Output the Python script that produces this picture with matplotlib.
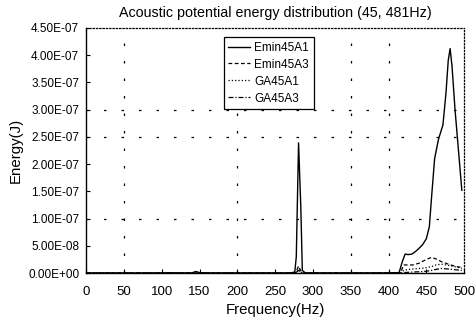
import matplotlib
matplotlib.use("Agg")
import matplotlib.pyplot as plt
import numpy as np

plt.rcParams['font.family'] = ['Liberation Sans', 'DejaVu Sans']

# frequency (Hz) and energy (x1e-7 J)
freq_a1 = [0, 100, 110, 120, 140, 145, 150, 160, 270, 276, 278, 281, 284, 286, 290, 400, 414,
           418, 422, 426, 431, 436, 440, 445, 450, 454, 457, 461, 466, 472, 476, 479, 481.5,
           484, 488, 497]
emin45a1 = [0.003, 0.003, 0.008, 0.003, 0.005, 0.03, 0.01, 0.003, 0.003, 0.02, 0.3, 2.39, 1.2,
            0.05, 0.003, 0.003, 0.01, 0.2, 0.35, 0.34, 0.35, 0.4, 0.45, 0.52, 0.63, 0.85, 1.4,
            2.1, 2.45, 2.72, 3.3, 3.9, 4.12, 3.8, 3.0, 1.52]

freq_ga = [0, 270, 277, 281, 285, 290, 410, 416, 420, 426, 432, 440, 450, 457, 463, 470, 480,
           490, 497]
emin45a3 = [0.002, 0.002, 0.01, 0.13, 0.01, 0.002, 0.002, 0.01, 0.15, 0.15, 0.15, 0.18, 0.25,
            0.29, 0.26, 0.21, 0.16, 0.12, 0.105]
ga45a1 = [0.001, 0.001, 0.005, 0.08, 0.005, 0.001, 0.001, 0.005, 0.05, 0.068, 0.075, 0.085,
          0.1, 0.12, 0.15, 0.165, 0.14, 0.11, 0.09]
ga45a3 = [0.0, 0.0, 0.003, 0.05, 0.003, 0.0, 0.0, 0.002, 0.01, 0.015, 0.02, 0.025, 0.035,
          0.05, 0.07, 0.085, 0.075, 0.06, 0.05]

x_grid = [50, 200, 350, 400]
y_grid = [1.0e-7, 2.5e-7, 3.0e-7]

fig = plt.figure(figsize=(4.76, 3.24), dpi=100)
ax = fig.add_axes([0.181, 0.157, 0.794, 0.757])

ax.plot(freq_a1, np.array(emin45a1) * 1e-7, '-', color='black', lw=1.0, label='Emin45A1')
ax.plot(freq_ga, np.array(emin45a3) * 1e-7, '--', color='black', lw=0.9, dashes=(3, 2), label='Emin45A3')
ax.plot(freq_ga, np.array(ga45a1) * 1e-7, ':', color='black', lw=0.9, label='GA45A1')
ax.plot(freq_ga, np.array(ga45a3) * 1e-7, '-.', color='black', lw=0.9, dashes=(4, 1.5, 1, 1.5), label='GA45A3')

for xv in x_grid:
    ax.axvline(xv, color='black', lw=0.9, dashes=(2, 12), zorder=0)
for yv in y_grid:
    ax.axhline(yv, color='black', lw=0.9, dashes=(2, 12), zorder=0)

ax.set_xlim(0, 500)
ax.set_ylim(0, 4.5e-7)
ax.set_xticks(np.arange(0, 501, 50))
yt = np.arange(0, 4.51e-7, 0.5e-7)
ax.set_yticks(yt)
ax.set_yticklabels([f"{v:.2E}" for v in yt])
ax.tick_params(direction='in', length=3, width=0.8, colors='black')
ax.tick_params(axis='x', pad=9, labelsize=9.5)
ax.tick_params(axis='y', pad=5, labelsize=8.5)

for s in ['top', 'right']:
    ax.spines[s].set_linestyle(':')
    ax.spines[s].set_linewidth(0.9)
for s in ['left', 'bottom']:
    ax.spines[s].set_linewidth(1.0)

ax.set_title('Acoustic potential energy distribution (45, 481Hz)', fontsize=10.3, pad=8)
ax.set_xlabel('Frequency(Hz)', fontsize=10.8, labelpad=4)
ax.set_ylabel('Energy(J)', fontsize=10.8, labelpad=4)

leg = ax.legend(loc='upper left', bbox_to_anchor=(0.364, 0.963), fontsize=8.5, frameon=True,
                fancybox=False, edgecolor='black', framealpha=1, handlelength=1.8,
                borderpad=0.4, labelspacing=0.42, handletextpad=0.4, borderaxespad=0)
leg.get_frame().set_linewidth(0.9)

fig.savefig('out.png', dpi=100)
